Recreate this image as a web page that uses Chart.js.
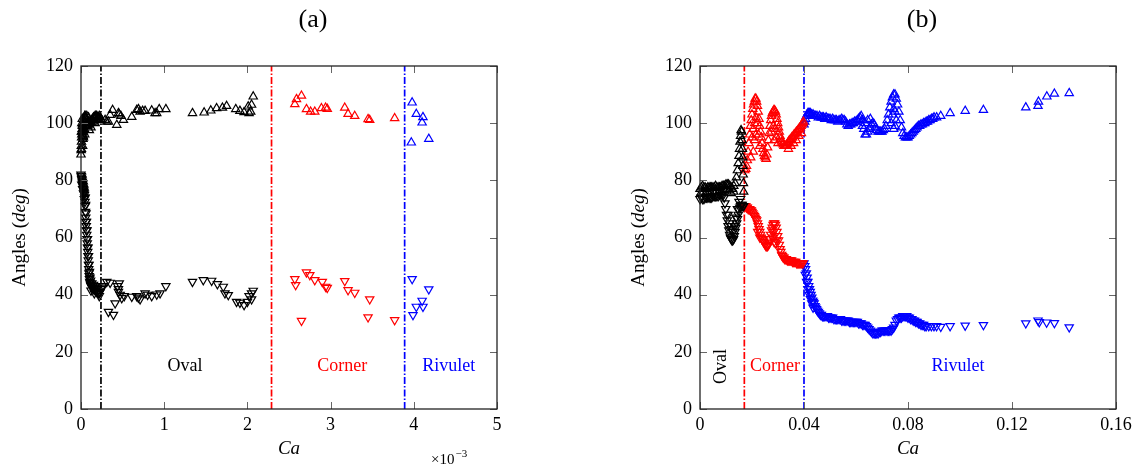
<!DOCTYPE html>
<html>
<head>
<meta charset="utf-8">
<script src="https://cdn.jsdelivr.net/npm/chart.js@4.4.1/dist/chart.umd.min.js"></script>
<style>
  html, body { margin: 0; padding: 0; background: #fff; }
  #wrap { position: relative; width: 1137px; height: 471px; }
  canvas { position: absolute; top: 0; }
  #chartA { left: 0; }
  #chartB { left: 560px; }
</style>
</head>
<body>
<div id="wrap">
  <canvas id="chartA" width="560" height="471"></canvas>
  <canvas id="chartB" width="577" height="471"></canvas>
</div>
<script>
const SERIF = '"Liberation Serif", "Times New Roman", serif';

// axis ticks
const angleTicks = [0, 20, 40, 60, 80, 100, 120];
const caTicksA = [0, 1, 2, 3, 4, 5];            // Ca x 10^3
const caTicksB = [0, 0.04, 0.08, 0.12, 0.16];

// regime boundaries
const limitsA = [0.24, 2.29, 3.89];
const limitsB = [0.01705, 0.04];

// ---- (a) angles vs Ca (x 10^-3) ----
const ovalUpA = [
  [0, 89], [0.002, 90.5], [0.004, 92], [0.006, 93.5], [0.008, 95], [0.01, 96], [0.012, 97],
  [0.014, 98], [0.016, 99], [0.018, 99.5], [0.02, 98], [0.022, 96], [0.024, 94.5], [0.026, 95.5],
  [0.028, 97], [0.03, 98.5], [0.034, 100], [0.038, 101], [0.042, 102], [0.046, 102.5], [0.05, 102.5],
  [0.055, 102], [0.06, 101.5], [0.065, 101], [0.07, 100], [0.075, 99.5], [0.08, 99], [0.085, 99.5],
  [0.09, 99.5], [0.095, 100], [0.1, 100], [0.11, 100.5], [0.12, 100.5], [0.13, 101], [0.14, 101.5],
  [0.15, 102], [0.16, 102], [0.17, 102.5], [0.18, 102.5], [0.19, 102.5], [0.2, 102], [0.21, 102],
  [0.22, 102.5], [0.23, 102], [0.24, 101.5],
  [0.005, 91], [0.005, 97], [0.01, 100], [0.015, 101.5], [0.02, 92], [0.03, 95], [0.04, 98],
  [0.045, 96], [0.06, 99], [0.07, 102.5], [0.09, 102], [0.1, 97.5], [0.12, 98.5], [0.15, 100.5],
  [0.17, 100], [0.19, 101],
  [0.29, 101.1], [0.31, 100.5], [0.33, 100.5], [0.35, 102.9], [0.38, 104.6], [0.43, 99.4],
  [0.45, 103.5], [0.46, 103], [0.48, 102.5], [0.51, 101.1], [0.61, 102.2], [0.67, 104.6],
  [0.69, 104.9], [0.71, 104], [0.74, 104.3], [0.77, 104.3], [0.85, 104.4], [0.89, 103.5],
  [0.91, 103.5], [0.94, 104.9], [1.02, 104.9], [1.34, 103.5], [1.48, 103.7], [1.56, 104.4],
  [1.63, 105.2], [1.7, 105.4], [1.75, 106], [1.86, 104.9], [1.91, 104.3], [1.96, 103.8],
  [2.01, 105.8], [2.02, 103.5], [2.04, 104], [2.05, 106.4], [2.07, 109.3]
];
const ovalDownA = [
  [0, 82], [0.003, 81.5], [0.006, 81], [0.009, 80.5], [0.012, 80], [0.015, 79.5], [0.018, 79],
  [0.021, 78.5], [0.024, 78], [0.027, 77.5], [0.03, 77], [0.033, 76.5], [0.036, 76], [0.039, 75.5],
  [0.042, 75], [0.045, 74], [0.048, 72.5], [0.051, 71], [0.054, 69], [0.057, 67], [0.06, 65.5],
  [0.063, 64], [0.066, 62.5], [0.069, 61], [0.072, 59.5], [0.075, 58], [0.078, 56.5], [0.081, 55],
  [0.084, 53.5], [0.087, 52], [0.09, 50.5], [0.093, 49], [0.096, 47.5], [0.099, 46.5], [0.102, 45.5],
  [0.105, 44.5], [0.11, 44], [0.115, 43.5], [0.12, 43], [0.13, 42.5], [0.14, 42.5], [0.15, 42],
  [0.16, 42], [0.17, 41.5], [0.18, 41.5], [0.19, 41], [0.2, 41], [0.21, 40.5], [0.22, 40.5],
  [0.23, 41], [0.24, 42], [0.25, 42.5],
  [0.01, 78.5], [0.02, 77], [0.03, 75.5], [0.04, 73.5], [0.05, 74], [0.055, 71.5], [0.06, 68.5],
  [0.066, 65.5], [0.072, 62.5], [0.078, 59.5], [0.084, 56.5], [0.09, 53.5], [0.096, 50.5],
  [0.102, 48], [0.108, 46], [0.115, 45], [0.13, 44], [0.15, 43.5], [0.17, 43], [0.2, 42.5],
  [0.12, 41.5], [0.16, 40.5], [0.22, 39.5],
  [0.27, 43], [0.31, 44.5], [0.33, 34], [0.35, 44.2], [0.39, 33], [0.41, 37], [0.44, 43],
  [0.45, 42], [0.45, 41], [0.46, 44], [0.47, 40], [0.49, 38.8], [0.52, 39.5], [0.61, 39.3],
  [0.67, 39.5], [0.69, 39], [0.71, 38.4], [0.77, 40.5], [0.8, 40], [0.85, 39.5], [0.91, 40.1],
  [0.95, 40.5], [1.02, 43], [1.34, 44.5], [1.47, 45.1], [1.57, 44.9], [1.64, 43.7], [1.71, 42.8],
  [1.73, 40.5], [1.77, 39.9], [1.87, 37.5], [1.91, 37.2], [1.96, 36.4], [2.0, 37.5], [2.02, 39.5],
  [2.05, 40.5], [2.07, 41.4], [2.05, 38.4]
];
const cornerUpA = [
  [2.57, 106.6], [2.59, 108.4], [2.65, 109.6], [2.71, 104.9], [2.76, 104], [2.81, 104], [2.89, 105.2],
  [2.94, 105.4], [2.96, 105], [3.17, 105.4], [3.21, 103.2], [3.29, 102.5], [3.45, 101.4],
  [3.47, 101.1], [3.77, 101.7]
];
const cornerDownA = [
  [2.57, 45.5], [2.58, 43.4], [2.65, 30.9], [2.71, 47.8], [2.75, 46.9], [2.81, 45.1], [2.9, 44.5],
  [2.94, 42.8], [2.96, 42.4], [3.17, 44.8], [3.21, 41.6], [3.29, 40.7], [3.45, 32.1], [3.47, 38.4],
  [3.77, 31.1]
];
const rivuletUpA = [[3.98, 107.2], [4.03, 103.2], [4.11, 102.1], [4.1, 100.2], [3.97, 93.2], [4.18, 94.5]];
const rivuletDownA = [[3.98, 45.5], [4.18, 41.9], [4.1, 37.9], [4.03, 35.8], [4.11, 35.8], [3.99, 32.9]];

// ---- (b) angles vs Ca ----
const ovalUpB = [
  [0, 77], [0.0005, 77.5], [0.001, 78], [0.0015, 77.5], [0.002, 77.5], [0.0025, 77], [0.003, 77.5],
  [0.0035, 77.5], [0.004, 77.5], [0.0045, 77.5], [0.005, 77.5], [0.0055, 77.5], [0.006, 78],
  [0.0065, 77.5], [0.007, 77.5], [0.0075, 77.5], [0.008, 77.5], [0.0085, 78], [0.009, 78],
  [0.0095, 78], [0.01, 78.5], [0.0105, 78.5], [0.011, 78.5], [0.0115, 78], [0.012, 77.5],
  [0.0125, 77], [0.013, 78], [0.0135, 79], [0.014, 81], [0.0144, 83.5], [0.0147, 86],
  [0.015, 88.5], [0.0152, 91], [0.0154, 93.5], [0.0156, 95.5], [0.0158, 97.5], [0.016, 97],
  [0.0162, 94], [0.0163, 91], [0.0164, 88], [0.0165, 85], [0.0166, 82], [0.0167, 79], [0.0168, 76],
  [0.0003, 75.5], [0.0012, 76], [0.0022, 75.5], [0.0032, 76], [0.0042, 75.5], [0.0052, 76],
  [0.0062, 76], [0.0072, 76], [0.0082, 76], [0.0092, 76.5], [0.0102, 77], [0.0112, 76.5],
  [0.012, 75.5], [0.013, 76]
];
const ovalDownB = [
  [0, 73.5], [0.0005, 74], [0.001, 73.5], [0.0015, 73.5], [0.002, 74], [0.0025, 74], [0.003, 74],
  [0.0035, 74], [0.004, 74], [0.0045, 74], [0.005, 74.5], [0.0055, 74.5], [0.006, 74.5],
  [0.0065, 74.5], [0.007, 74.5], [0.0075, 75], [0.008, 75], [0.0085, 75], [0.009, 75],
  [0.0093, 74], [0.0096, 72], [0.0099, 70], [0.0102, 68], [0.0105, 66], [0.0108, 64],
  [0.0111, 62.5], [0.0114, 61], [0.0117, 60], [0.012, 59.5], [0.0123, 59], [0.0126, 59],
  [0.0129, 59.5], [0.0132, 60.5], [0.0135, 62], [0.0138, 63.5], [0.0141, 65], [0.0144, 66.5],
  [0.0147, 68], [0.015, 69.5], [0.0153, 70.5], [0.0156, 71], [0.0159, 71.5], [0.0162, 71.5],
  [0.0165, 71], [0.0168, 71],
  [0.0108, 68], [0.0114, 65], [0.012, 63], [0.0126, 62], [0.0132, 64], [0.0138, 67], [0.0144, 70],
  [0.015, 72.5], [0.0156, 73.5]
];
const cornerUpB = [
  [0.0172, 83.5], [0.0176, 84], [0.0179, 85], [0.0182, 87], [0.0185, 90], [0.0188, 93],
  [0.0191, 96], [0.0194, 99], [0.0197, 101], [0.02, 103], [0.0203, 105], [0.0206, 106.5],
  [0.0209, 107.5], [0.0212, 108.5], [0.0215, 108.5], [0.0218, 107.5], [0.0221, 106], [0.0224, 104],
  [0.0227, 101.5], [0.023, 99], [0.0233, 97], [0.0236, 95], [0.0239, 93], [0.0242, 91],
  [0.0245, 89.5], [0.0248, 88.5], [0.0251, 88], [0.0254, 87.5],
  [0.0195, 88], [0.02, 95], [0.0205, 90], [0.0205, 98], [0.021, 100], [0.021, 94], [0.0215, 102],
  [0.0215, 96], [0.022, 100], [0.0225, 96], [0.023, 92],
  [0.0257, 89], [0.026, 91.5], [0.0263, 94], [0.0266, 96.5], [0.0269, 99], [0.0272, 101],
  [0.0275, 102.5], [0.0278, 103.5], [0.0281, 104], [0.0284, 104.5], [0.0287, 104.5], [0.029, 104],
  [0.0293, 103], [0.0296, 101.5], [0.0299, 100], [0.0302, 98.5], [0.0305, 97], [0.0308, 95.5],
  [0.0311, 94.5], [0.0314, 93.5], [0.0317, 93], [0.032, 92.5], [0.0323, 92], [0.0326, 92],
  [0.0329, 92], [0.0332, 92], [0.0335, 92.5],
  [0.0275, 97], [0.0282, 99], [0.029, 98], [0.0285, 94], [0.0295, 95], [0.03, 93],
  [0.0338, 93], [0.0341, 93.5], [0.0344, 94], [0.0347, 94], [0.035, 94.5], [0.0353, 95],
  [0.0356, 95], [0.0359, 95.5], [0.0362, 96], [0.0365, 96], [0.0368, 96.5], [0.0371, 97],
  [0.0374, 97], [0.0377, 97.5], [0.038, 98], [0.0383, 98], [0.0386, 98.5], [0.0389, 99],
  [0.0392, 99.5], [0.0395, 100], [0.0398, 100.5],
  [0.034, 91], [0.035, 92], [0.036, 93], [0.037, 94], [0.038, 95.5], [0.039, 96.5]
];
const cornerDownB = [
  [0.017, 71], [0.0173, 71], [0.0176, 71], [0.0179, 70.5], [0.0182, 70.5], [0.0185, 70], [0.0188, 70],
  [0.0191, 70], [0.0194, 69.5], [0.0197, 69.5], [0.02, 69], [0.0203, 68.5], [0.0206, 68],
  [0.0209, 67.5], [0.0212, 67], [0.0215, 66.5], [0.0218, 66], [0.0221, 65], [0.0224, 64],
  [0.0227, 63], [0.023, 62], [0.0233, 61], [0.0236, 60], [0.0239, 59.5], [0.0242, 59],
  [0.0245, 58.5], [0.0248, 58], [0.0251, 57.5], [0.0254, 57], [0.0257, 57], [0.026, 57],
  [0.0263, 57.5], [0.0266, 58], [0.0269, 59.5], [0.0272, 61], [0.0275, 62.5], [0.0278, 63.5],
  [0.0281, 64.5], [0.0284, 65], [0.0287, 65], [0.029, 64.5], [0.0293, 63.5], [0.0296, 62],
  [0.0299, 60.5], [0.0302, 59], [0.0305, 57.5], [0.0308, 56], [0.0311, 55], [0.0314, 54],
  [0.0317, 53.5], [0.032, 53], [0.0323, 53], [0.0326, 52.5], [0.0329, 52.5], [0.0332, 52.5],
  [0.0336, 52], [0.034, 52], [0.0344, 52], [0.0348, 52], [0.0352, 52], [0.0356, 51.5],
  [0.036, 51.5], [0.0364, 51.5], [0.0368, 51.5], [0.0372, 51], [0.0376, 51], [0.038, 51],
  [0.0384, 51], [0.0388, 51], [0.0392, 51], [0.0396, 51],
  [0.028, 60], [0.0283, 62], [0.0285, 58.5], [0.029, 58], [0.0295, 59], [0.0222, 62], [0.023, 60]
];
const rivuletUpB = [
  [0.04, 99.5], [0.0403, 100.5], [0.0406, 101.5], [0.0409, 102.5], [0.0412, 103], [0.0415, 103.5],
  [0.0418, 103.5], [0.0421, 103.5], [0.0424, 103.5], [0.0427, 103], [0.043, 103], [0.0435, 103],
  [0.044, 102.5], [0.0445, 102.5], [0.045, 102.5], [0.0455, 102], [0.046, 102.5], [0.0465, 102],
  [0.047, 102], [0.0475, 102], [0.048, 101.5], [0.0485, 102], [0.049, 101.5], [0.0495, 101.5],
  [0.05, 101.5], [0.0505, 101], [0.051, 101.5], [0.0515, 101], [0.052, 101], [0.0525, 101],
  [0.053, 100.5], [0.0535, 101], [0.054, 101], [0.0545, 101.5], [0.055, 101], [0.0555, 101],
  [0.056, 100.5], [0.0565, 99.5], [0.057, 99], [0.0575, 99.5], [0.058, 99.5], [0.0585, 100],
  [0.059, 100], [0.0595, 100.5], [0.06, 100.5], [0.0605, 101], [0.061, 101.5], [0.0615, 102],
  [0.062, 102.5], [0.0625, 101], [0.063, 98], [0.0635, 96], [0.064, 96], [0.0645, 97], [0.065, 98],
  [0.0655, 98.5], [0.066, 99.5], [0.0665, 100], [0.067, 99.5], [0.0675, 98.5], [0.068, 97.5],
  [0.0685, 97], [0.069, 97], [0.0695, 97], [0.07, 97], [0.0705, 97.5], [0.071, 98], [0.0715, 99],
  [0.072, 101], [0.0725, 103], [0.073, 105.5], [0.0735, 107.5], [0.074, 109], [0.0745, 110],
  [0.075, 110], [0.0755, 108.5], [0.076, 106.5], [0.0765, 104], [0.077, 101], [0.0775, 98.5],
  [0.078, 96.5], [0.0785, 95.5], [0.079, 95], [0.0795, 95], [0.08, 95], [0.0805, 95.5], [0.081, 96],
  [0.0815, 96.5], [0.082, 97], [0.0825, 97.5], [0.083, 98], [0.0835, 98.5], [0.084, 99],
  [0.0845, 99], [0.085, 99.5], [0.0855, 99.5], [0.086, 100], [0.0865, 100], [0.087, 100.5],
  [0.0875, 100.5], [0.088, 101], [0.0885, 101], [0.089, 101.5], [0.0895, 101.5], [0.09, 102],
  [0.091, 102], [0.0926, 102.5],
  [0.0625, 99], [0.0635, 100], [0.0645, 101], [0.0655, 101.5],
  [0.0735, 100], [0.074, 103], [0.0745, 105], [0.075, 104], [0.0755, 101], [0.0745, 98], [0.075, 99],
  [0.0962, 103.5], [0.102, 104.3], [0.109, 104.6], [0.1253, 105.5], [0.13, 106], [0.1302, 107.5],
  [0.1334, 109.3], [0.1363, 110.3], [0.142, 110.5]
];
const rivuletDownB = [
  [0.04, 51], [0.0403, 50], [0.0406, 49], [0.0409, 47.5], [0.0412, 46], [0.0415, 44.5], [0.0418, 43],
  [0.0421, 42], [0.0424, 41], [0.0427, 40], [0.043, 39], [0.0433, 38], [0.0436, 37.5], [0.0439, 37],
  [0.0442, 36], [0.0445, 35.5], [0.0448, 35], [0.0451, 34.5], [0.0455, 34], [0.0459, 33.5],
  [0.0463, 33], [0.0467, 33], [0.0471, 32.5], [0.0475, 32.5], [0.048, 32.5], [0.0485, 32.5],
  [0.049, 32.5], [0.0495, 32], [0.05, 32], [0.0505, 32], [0.051, 32], [0.0515, 31.5], [0.052, 31.5],
  [0.0525, 31.5], [0.053, 31.5], [0.0535, 31.5], [0.054, 31.5], [0.0545, 31], [0.055, 31],
  [0.0555, 31], [0.056, 31], [0.0565, 31], [0.057, 31], [0.0575, 30.5], [0.058, 30.5], [0.0585, 30.5],
  [0.059, 30.5], [0.0595, 30.5], [0.06, 30.5], [0.0605, 30.5], [0.061, 30], [0.0615, 30], [0.062, 30],
  [0.0625, 29.5], [0.063, 29.5], [0.0635, 29.5], [0.064, 29], [0.0645, 28.5], [0.065, 28],
  [0.0655, 27.5], [0.066, 27], [0.0665, 26.5], [0.067, 26.5], [0.0675, 26.5], [0.068, 26.5],
  [0.0685, 26.5], [0.069, 27], [0.0695, 27], [0.07, 27.5], [0.0705, 27.5], [0.071, 27.5],
  [0.0715, 27.5], [0.072, 27.5], [0.0725, 27.5], [0.073, 27.5], [0.0735, 27.5], [0.074, 28],
  [0.0745, 28.5], [0.075, 29.5], [0.0755, 31], [0.076, 31.5], [0.0765, 32], [0.077, 32],
  [0.0775, 32], [0.078, 32.5], [0.0785, 32.5], [0.079, 32.5], [0.0795, 32.5], [0.08, 32],
  [0.0805, 32], [0.081, 31.5], [0.0815, 31.5], [0.082, 31], [0.0825, 31], [0.083, 30.5],
  [0.0835, 30.5], [0.084, 30], [0.0845, 30], [0.085, 29.5], [0.0855, 29.5], [0.086, 29.5],
  [0.0865, 29], [0.087, 29], [0.088, 29], [0.089, 29], [0.09, 29], [0.091, 29],
  [0.0405, 47], [0.041, 44.5], [0.0415, 42], [0.042, 40], [0.0425, 38.5], [0.043, 37], [0.0435, 35.5],
  [0.0926, 28.8], [0.0962, 29], [0.102, 29.2], [0.109, 29.4], [0.1253, 30], [0.13, 31],
  [0.1305, 30.4], [0.1333, 30.3], [0.1363, 30.1], [0.142, 28.6]
];

const BLACK = '#000000', RED = '#ff0000', BLUE = '#0000ff';

const pts = arr => arr.map(([x, y]) => ({ x, y }));

function markers(data, color, down) {
  return {
    data: pts(data),
    showLine: false,
    pointStyle: 'triangle',
    rotation: down ? 180 : 0,
    pointRadius: 4.8,
    pointHoverRadius: 4.8,
    borderColor: color,
    pointBorderColor: color,
    backgroundColor: 'rgba(0,0,0,0)',
    pointBackgroundColor: 'rgba(0,0,0,0)',
    pointBorderWidth: 1.2,
    clip: false
  };
}

function limitLine(x, color) {
  return {
    data: [{ x, y: 0 }, { x, y: 120 }],
    showLine: true,
    borderColor: color,
    borderWidth: 1.7,
    borderDash: [7, 2, 1.5, 2],
    pointRadius: 0,
    fill: false
  };
}

function drawYTitle(ctx, cx, cy) {
  const parts = [['Angles (', false], ['deg', true], [')', false]];
  ctx.save();
  ctx.translate(cx, cy);
  ctx.rotate(-Math.PI / 2);
  ctx.fillStyle = '#000';
  ctx.textBaseline = 'middle';
  ctx.textAlign = 'left';
  let total = 0;
  parts.forEach(([s, it]) => {
    ctx.font = (it ? 'italic ' : '') + '19px ' + SERIF;
    total += ctx.measureText(s).width;
  });
  let pos = -total / 2;
  parts.forEach(([s, it]) => {
    ctx.font = (it ? 'italic ' : '') + '19px ' + SERIF;
    ctx.fillText(s, pos, 0);
    pos += ctx.measureText(s).width;
  });
  ctx.restore();
}

// frame with inward ticks, panel title, axis title and regime labels
const framePlugin = {
  id: 'frame',
  afterDraw(chart, args, o) {
    const { ctx, chartArea: a, scales: { x, y } } = chart;
    ctx.save();
    ctx.strokeStyle = '#666';
    ctx.lineWidth = 1;
    ctx.beginPath();
    x.ticks.forEach(t => {
      const px = Math.round(x.getPixelForValue(t.value)) + 0.5;
      ctx.moveTo(px, a.bottom); ctx.lineTo(px, a.bottom - 7);
      ctx.moveTo(px, a.top); ctx.lineTo(px, a.top + 7);
    });
    y.ticks.forEach(t => {
      const py = Math.round(y.getPixelForValue(t.value)) + 0.5;
      ctx.moveTo(a.left, py); ctx.lineTo(a.left + 7, py);
      ctx.moveTo(a.right, py); ctx.lineTo(a.right - 7, py);
    });
    ctx.stroke();
    ctx.strokeStyle = '#222';
    ctx.lineWidth = 1.3;
    ctx.strokeRect(a.left, a.top, a.right - a.left, a.bottom - a.top);

    ctx.fillStyle = '#000';
    ctx.textAlign = 'center';
    ctx.textBaseline = 'middle';
    ctx.font = '26px ' + SERIF;
    ctx.fillText(o.title, o.titleX, 20);

    drawYTitle(ctx, a.left - 61, (a.top + a.bottom) / 2);

    o.regions.forEach(r => {
      const px = x.getPixelForValue(r.x);
      const py = y.getPixelForValue(r.y);
      ctx.fillStyle = r.color;
      ctx.font = '18px ' + SERIF;
      if (r.vertical) {
        ctx.save();
        ctx.translate(px, py);
        ctx.rotate(-Math.PI / 2);
        ctx.fillText(r.text, 0, 0);
        ctx.restore();
      } else {
        ctx.fillText(r.text, px, py);
      }
    });

    if (o.multiplier) {
      ctx.fillStyle = '#000';
      ctx.textAlign = 'left';
      ctx.textBaseline = 'alphabetic';
      ctx.font = '15px ' + SERIF;
      ctx.fillText('\u00d710', o.multiplier.x, o.multiplier.y);
      const w = ctx.measureText('\u00d710').width;
      ctx.font = '11px ' + SERIF;
      ctx.fillText('\u22123', o.multiplier.x + w + 1, o.multiplier.y - 7);
    }
    ctx.restore();
  }
};

function buildChart(id, cfg) {
  const tickFont = { family: SERIF, size: 18 };
  return new Chart(document.getElementById(id), {
    type: 'scatter',
    data: { datasets: cfg.datasets },
    options: {
      responsive: false,
      animation: false,
      events: [],
      layout: { padding: { left: cfg.padLeft, right: cfg.padRight, top: 66, bottom: 0 } },
      plugins: { legend: { display: false }, tooltip: { enabled: false }, frame: cfg.frame },
      scales: {
        x: {
          type: 'linear',
          min: cfg.xTicks[0],
          max: cfg.xTicks[cfg.xTicks.length - 1],
          grid: { display: false, drawTicks: false },
          border: { display: false },
          afterBuildTicks: s => { s.ticks = cfg.xTicks.map(v => ({ value: v })); },
          afterFit: s => { s.height = 62; },
          ticks: { color: '#000', font: tickFont, padding: 5, maxRotation: 0, callback: v => String(v) },
          title: { display: true, text: 'Ca', color: '#000', font: { family: SERIF, size: 19, style: 'italic' }, padding: { top: 0, bottom: 11 } }
        },
        y: {
          type: 'linear',
          min: 0,
          max: 120,
          grid: { display: false, drawTicks: false },
          border: { display: false },
          afterBuildTicks: s => { s.ticks = angleTicks.map(v => ({ value: v })); },
          afterFit: s => { s.width = 81; },
          ticks: { color: '#000', font: tickFont, padding: 8, callback: v => String(v) }
        }
      }
    },
    plugins: [framePlugin]
  });
}

buildChart('chartA', {
  padLeft: 0,
  padRight: 63,
  xTicks: caTicksA,
  datasets: [
    markers(ovalUpA, BLACK, false),
    markers(ovalDownA, BLACK, true),
    markers(cornerUpA, RED, false),
    markers(cornerDownA, RED, true),
    markers(rivuletUpA, BLUE, false),
    markers(rivuletDownA, BLUE, true),
    limitLine(limitsA[0], BLACK),
    limitLine(limitsA[1], RED),
    limitLine(limitsA[2], BLUE)
  ],
  frame: {
    title: '(a)',
    titleX: 313,
    regions: [
      { text: 'Oval', x: 1.25, y: 15, color: BLACK },
      { text: 'Corner', x: 3.14, y: 15, color: RED },
      { text: 'Rivulet', x: 4.42, y: 15, color: BLUE }
    ],
    multiplier: { x: 431, y: 464 }
  }
});

buildChart('chartB', {
  padLeft: 59,
  padRight: 21,
  xTicks: caTicksB,
  datasets: [
    markers(ovalUpB, BLACK, false),
    markers(ovalDownB, BLACK, true),
    markers(cornerUpB, RED, false),
    markers(cornerDownB, RED, true),
    markers(rivuletUpB, BLUE, false),
    markers(rivuletDownB, BLUE, true),
    limitLine(limitsB[0], RED),
    limitLine(limitsB[1], BLUE)
  ],
  frame: {
    title: '(b)',
    titleX: 362,
    regions: [
      { text: 'Oval', x: 0.0081, y: 14.9, color: BLACK, vertical: true },
      { text: 'Corner', x: 0.0288, y: 15, color: RED },
      { text: 'Rivulet', x: 0.0992, y: 15, color: BLUE }
    ],
    multiplier: null
  }
});
</script>
</body>
</html>
